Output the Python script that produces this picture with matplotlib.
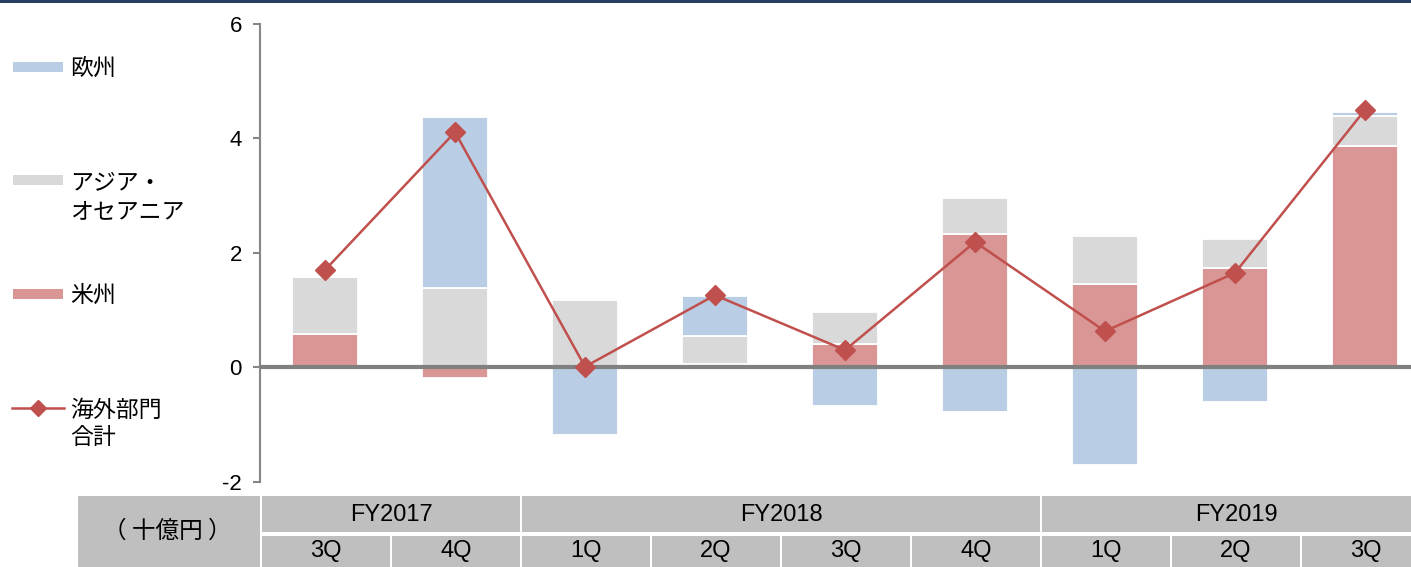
import matplotlib
matplotlib.use("Agg")
import matplotlib.pyplot as plt
from matplotlib.patches import Rectangle
from matplotlib.lines import Line2D
from matplotlib import font_manager
import numpy as np

# ---------------- data ----------------
quarters = ['3Q', '4Q', '1Q', '2Q', '3Q', '4Q', '1Q', '2Q', '3Q']
fiscal_years = ['FY2017', 'FY2018', 'FY2019']
fy_counts = [2, 4, 3]
americas = [0.58, -0.18, 0.00, 0.05, 0.41, 2.33, 1.46, 1.73, 3.86]
asia = [0.99, 1.39, 1.18, 0.50, 0.55, 0.63, 0.84, 0.52, 0.54]
europe = [0.00, 2.99, -1.19, 0.70, -0.67, -0.79, -1.70, -0.61, 0.07]
total = [1.70, 4.11, 0.01, 1.26, 0.30, 2.19, 0.63, 1.65, 4.50]
series_labels = ['欧州', 'アジア・\nオセアニア', '米州', '海外部門\n合計']
unit_label = '（ 十億円 ）'
yticks = [-2, 0, 2, 4, 6]

# ---------------- style ----------------
C_EU = '#B9CDE5'
C_AS = '#D9D9D9'
C_AM = '#D99694'
C_TOT = '#C0504D'
C_CELL = '#BFBFBF'
C_NAVY = '#243F60'

available = {f.name for f in font_manager.fontManager.ttflist}
NUM_FONT = ['Liberation Sans', 'DejaVu Sans']
TAB_FONT = (['Liberation Sans Narrow'] if 'Liberation Sans Narrow' in available else []) + ['Liberation Sans', 'DejaVu Sans']
JP_FONT = ['Noto Sans CJK JP', 'DejaVu Sans']

W, H = 1411, 567
fig = plt.figure(figsize=(W / 100, H / 100), dpi=100)

AX_L = 260
COL_W = 130
AX_TOP = 24
AX_BOT = 481.7
n = len(quarters)
ax = fig.add_axes([AX_L / W, (H - AX_BOT) / H, COL_W * n / W, (AX_BOT - AX_TOP) / H])

x = np.arange(n)
bw = 0.51
pos_base = np.zeros(n)
neg_base = np.zeros(n)
for vals, col in [(americas, C_AM), (asia, C_AS), (europe, C_EU)]:
    v = np.array(vals, dtype=float)
    base = np.where(v >= 0, pos_base, neg_base)
    ax.bar(x, v, bw, bottom=base, color=col, edgecolor='white', linewidth=1.3, zorder=2)
    pos_base = pos_base + np.where(v > 0, v, 0)
    neg_base = neg_base + np.where(v < 0, v, 0)

ax.axhline(0, color='#808080', lw=3.0, zorder=3)
ax.plot(x, total, color=C_TOT, lw=1.8, marker='D', markersize=10,
        markerfacecolor=C_TOT, markeredgecolor=C_TOT, zorder=4)

ax.set_xlim(-0.5, n - 0.5)
ax.set_ylim(-2, 6)
ax.set_yticks(yticks)
ax.set_yticklabels([str(t) for t in yticks], fontfamily=NUM_FONT, fontsize=16)
ax.set_xticks([])
for s in ['top', 'right', 'bottom']:
    ax.spines[s].set_visible(False)
ax.spines['left'].set_color('#868686')
ax.spines['left'].set_linewidth(1.5)
ax.tick_params(axis='y', direction='out', length=5, width=1.5, color='#868686', pad=8)
ax.patch.set_alpha(0)

# ---------------- overlay (legend, table, top rule) ----------------
ov = fig.add_axes([0, 0, 1, 1], zorder=-1)
ov.set_xlim(0, W)
ov.set_ylim(H, 0)
ov.axis('off')

ov.add_patch(Rectangle((0, 0), W, 3, color=C_NAVY, lw=0))

# legend
leg_y = [67, 180, 294, 408]
leg_txt_y = [68, 197.5, 295, 424]
for i, (lab, col) in enumerate(zip(series_labels[:3], [C_EU, C_AS, C_AM])):
    ov.add_patch(Rectangle((13, leg_y[i] - 5), 50, 10, color=col, lw=0))
ov.add_line(Line2D([12, 64], [leg_y[3], leg_y[3]], color=C_TOT, lw=1.8))
ov.add_line(Line2D([38], [leg_y[3]], marker='D', markersize=8, color=C_TOT, lw=0))
for lab, ty in zip(series_labels, leg_txt_y):
    ov.text(70, ty, lab, ha='left', va='center', fontsize=16.5, family=JP_FONT,
            linespacing=1.25, color='black')

# table
T_TOP = 496
T_MID1 = 532.3
T_MID2 = 535.7
T_BOT = 570
GAP = 2
ov.add_patch(Rectangle((78, T_TOP), AX_L - 78, T_BOT - T_TOP, color=C_CELL, lw=0))
ov.text((78 + AX_L) / 2 - 2, (T_TOP + H) / 2, unit_label, ha='center', va='center',
        fontsize=17, family=JP_FONT)
start = 0
for fy, cnt in zip(fiscal_years, fy_counts):
    x0 = AX_L + COL_W * start + GAP
    x1 = AX_L + COL_W * (start + cnt)
    ov.add_patch(Rectangle((x0, T_TOP), x1 - x0, T_MID1 - T_TOP, color=C_CELL, lw=0))
    ov.text((x0 + x1) / 2, (T_TOP + T_MID1) / 2 + 1, fy, ha='center', va='center',
            fontsize=17, family=TAB_FONT)
    start += cnt
for i, q in enumerate(quarters):
    x0 = AX_L + COL_W * i + GAP
    x1 = AX_L + COL_W * (i + 1)
    ov.add_patch(Rectangle((x0, T_MID2), x1 - x0, T_BOT - T_MID2, color=C_CELL, lw=0))
    ov.text((x0 + x1) / 2, 551, q, ha='center', va='center', fontsize=17, family=TAB_FONT)

fig.savefig('out.png', dpi=100)
